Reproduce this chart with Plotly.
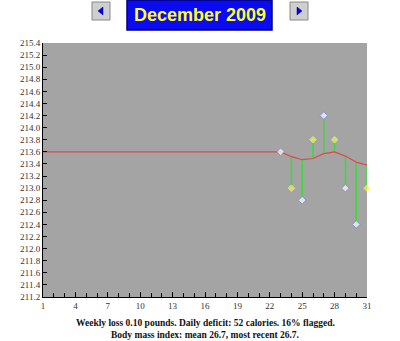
import plotly.graph_objects as go

# ---- data ----
trend_days = list(range(1, 32))
trend_values = [213.6, 213.6, 213.6, 213.6, 213.6, 213.6, 213.6, 213.6, 213.6, 213.6,
                213.6, 213.6, 213.6, 213.6, 213.6, 213.6, 213.6, 213.6, 213.6, 213.6,
                213.6, 213.6, 213.6, 213.52, 213.47, 213.49, 213.57, 213.6, 213.53,
                213.43, 213.38]
weigh_days = [23, 24, 25, 26, 27, 28, 29, 30, 31]
weights = [213.6, 213.0, 212.8, 213.8, 214.2, 213.8, 213.0, 212.4, 213.0]
flagged = [False, True, False, True, False, True, False, False, True]
x_ticks = [1, 4, 7, 10, 13, 16, 19, 22, 25, 28, 31]
y_ticks = [211.2, 211.4, 211.6, 211.8, 212.0, 212.2, 212.4, 212.6, 212.8, 213.0,
           213.2, 213.4, 213.6, 213.8, 214.0, 214.2, 214.4, 214.6, 214.8, 215.0,
           215.2, 215.4]
title = "December 2009"
footer1 = "Weekly loss 0.10 pounds. Daily deficit: 52 calories. 16% flagged."
footer2 = "Body mass index: mean 26.7, most recent 26.7."

W, H = 400, 341
L, R, T, B = 43, 367, 43, 297


def px(x):
    return (x - L) / (R - L)


def py(y):
    return (B - y) / (B - T)


fig = go.Figure()

# green sinkers from trend to each weight
gx, gy = [], []
for d, w in zip(weigh_days, weights):
    gx += [d, d, None]
    gy += [trend_values[d - 1], w, None]
fig.add_trace(go.Scatter(x=gx, y=gy, mode="lines",
                         line=dict(color="#3fd83f", width=1.6),
                         hoverinfo="skip", showlegend=False))

# trend line
fig.add_trace(go.Scatter(x=trend_days, y=trend_values, mode="lines",
                         line=dict(color="#e04848", width=1.2),
                         showlegend=False, cliponaxis=False))

# weights
fig.add_trace(go.Scatter(
    x=weigh_days, y=weights, mode="markers", cliponaxis=False,
    marker=dict(symbol="diamond",
                size=[5 if f else 6 for f in flagged],
                color=["#ffff00" if f else "#ffffff" for f in flagged],
                line=dict(color=["#ececd8" if f else "#8080e0" for f in flagged], width=1)),
    showlegend=False))

axis_font = dict(family="Liberation Serif, Times New Roman, serif", size=9, color="#333333")

fig.update_layout(
    width=W, height=H,
    margin=dict(l=L, r=W - R, t=T, b=H - B, pad=0),
    paper_bgcolor="#ffffff", plot_bgcolor="#a4a4a4",
    xaxis=dict(range=[1, 31], tickvals=x_ticks, ticks="inside", ticklen=5,
               tickcolor="#000000", showgrid=False, zeroline=False,
               showline=True, linecolor="#000000", linewidth=1,
               tickfont=axis_font,
               minor=dict(dtick=1, tick0=1, ticks="inside", ticklen=4, tickcolor="#000000")),
    yaxis=dict(range=[211.2, 215.4], tickvals=y_ticks,
               ticktext=[f"{v:.1f}" for v in y_ticks],
               ticks="inside", ticklen=4, tickcolor="#000000",
               showgrid=False, zeroline=False, showline=True,
               linecolor="#000000", linewidth=1, tickfont=axis_font),
)

shapes = []
# title box
shapes.append(dict(type="rect", xref="paper", yref="paper",
                   x0=px(127), x1=px(272), y0=py(30), y1=py(0),
                   fillcolor="#0a0af5", line=dict(color="#000070", width=1.5)))


def button(x0, x1, y0, y1, left):
    out = [dict(type="rect", xref="paper", yref="paper",
                x0=px(x0), x1=px(x1), y0=py(y1), y1=py(y0),
                fillcolor="#cfcfcf", line=dict(color="#888888", width=1))]
    cx, cy = (x0 + x1) / 2, (y0 + y1) / 2
    if left:
        pts = [(cx - 3, cy), (cx + 2, cy - 4), (cx + 2, cy + 4)]
    else:
        pts = [(cx + 3, cy), (cx - 2, cy - 4), (cx - 2, cy + 4)]
    path = "M " + " L ".join(f"{px(a):.5f},{py(b):.5f}" for a, b in pts) + " Z"
    out.append(dict(type="path", xref="paper", yref="paper", path=path,
                    fillcolor="#0000e0", line=dict(color="#0000a0", width=0.5)))
    return out


shapes += button(92, 110, 2, 20, True)
shapes += button(290, 308, 2, 20, False)
fig.update_layout(shapes=shapes)

fig.add_annotation(x=px(200), y=py(15), xref="paper", yref="paper",
                   text=f"<b>{title}</b>", showarrow=False,
                   font=dict(family="Liberation Sans, Arial, sans-serif", size=18, color="#ffff20"),
                   xanchor="center", yanchor="middle")
fig.add_annotation(x=px(205), y=py(323), xref="paper", yref="paper",
                   text=f"<b>{footer1}</b>", showarrow=False,
                   font=dict(family="Liberation Serif, Times New Roman, serif", size=9.5, color="#111111"),
                   xanchor="center", yanchor="middle")
fig.add_annotation(x=px(205), y=py(335), xref="paper", yref="paper",
                   text=f"<b>{footer2}</b>", showarrow=False,
                   font=dict(family="Liberation Serif, Times New Roman, serif", size=9.5, color="#111111"),
                   xanchor="center", yanchor="middle")

fig.write_html("out.html")
